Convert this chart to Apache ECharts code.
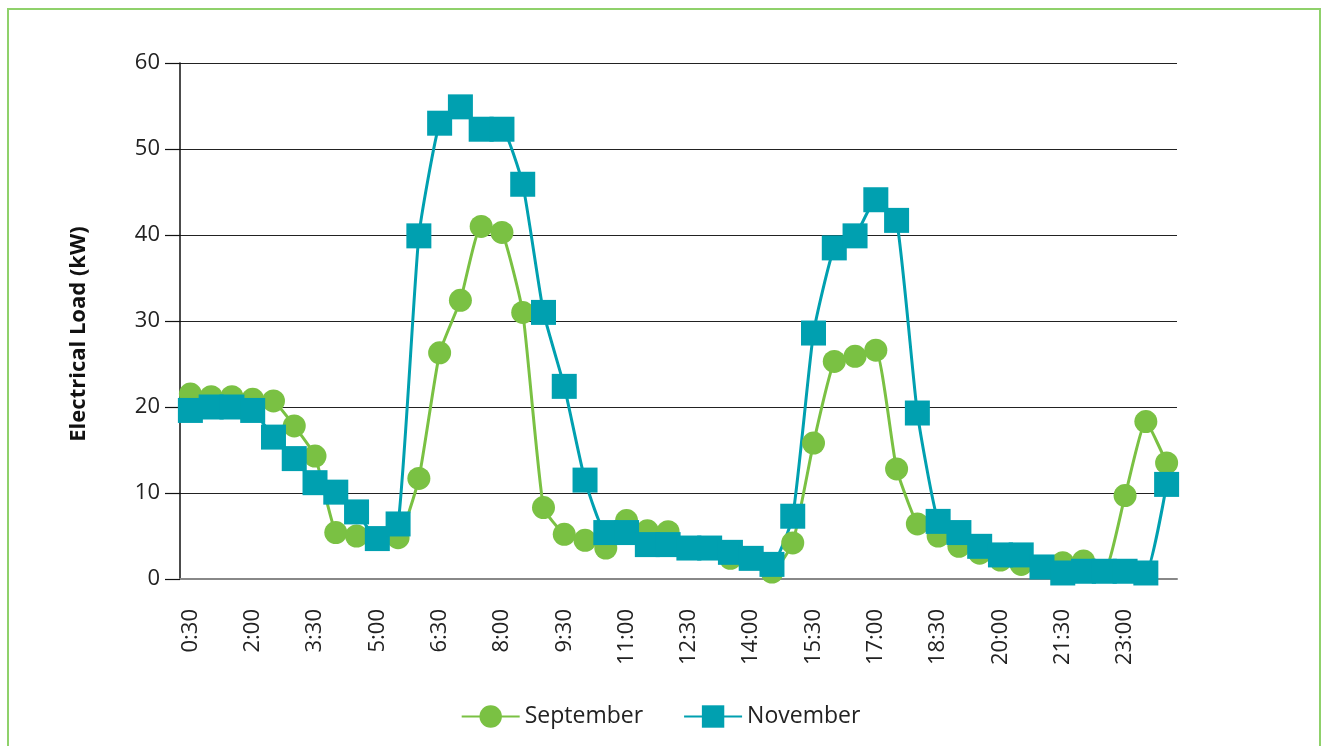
<!DOCTYPE html>
<html>
	<head>
		<meta charset="UTF-8">
		<title>Electrical Load</title>
		<script src="https://cdn.jsdelivr.net/npm/echarts@6/dist/echarts.min.js"></script>
		<style>
			html, body { margin: 0; padding: 0; background: #fff; }
			#main { width: 1321px; height: 746px; }
		</style>
	</head>
	<body>
		<div id="main"></div>
		<script>
			// half-hour time slots
			var times = ['0:30','1:00','1:30','2:00','2:30','3:00','3:30','4:00','4:30','5:00','5:30','6:00',
				'6:30','7:00','7:30','8:00','8:30','9:00','9:30','10:00','10:30','11:00','11:30','12:00',
				'12:30','13:00','13:30','14:00','14:30','15:00','15:30','16:00','16:30','17:00','17:30','18:00',
				'18:30','19:00','19:30','20:00','20:30','21:00','21:30','22:00','22:30','23:00','23:30','24:00'];

			// load in kW
			var september = [21.5, 21.2, 21.2, 20.9, 20.7, 17.8, 14.3, 5.4, 5.0, 4.7, 4.8, 11.7,
				26.3, 32.4, 41.0, 40.3, 31.0, 8.3, 5.2, 4.5, 3.6, 6.8, 5.6, 5.5,
				3.6, 3.6, 2.4, 2.4, 0.8, 4.2, 15.8, 25.3, 25.9, 26.6, 12.8, 6.4,
				5.0, 3.8, 3.0, 2.2, 1.7, 1.4, 1.9, 2.1, 0.9, 9.7, 18.3, 13.5];
			var november = [19.6, 20.0, 20.0, 19.6, 16.5, 14.0, 11.2, 10.1, 7.8, 4.7, 6.4, 39.9,
				53.0, 54.9, 52.3, 52.3, 45.9, 31.0, 22.4, 11.5, 5.4, 5.4, 4.0, 4.0,
				3.6, 3.6, 3.1, 2.4, 1.7, 7.3, 28.6, 38.5, 39.9, 44.1, 41.7, 19.3,
				6.7, 5.4, 3.8, 2.8, 2.8, 1.4, 0.7, 0.9, 0.9, 0.9, 0.7, 11.0];

			var green = '#7ac143';
			var teal = '#00a0b0';
			var font = 'Open Sans';

			var myChart = echarts.init(document.getElementById('main'));
			var option = {
				backgroundColor: '#fff',
				textStyle: { fontFamily: font },
				animation: false,
				// light green frame around the figure
				graphic: [{
					type: 'rect',
					shape: { x: 8, y: 9, width: 1312, height: 800 },
					style: { fill: 'none', stroke: '#8fd16b', lineWidth: 2 },
					silent: true
				}],
				grid: {
					left: 180,
					right: 144,
					top: 63,
					bottom: 167
				},
				legend: {
					left: 'center',
					top: 700,
					itemWidth: 58,
					itemHeight: 28,
					itemGap: 40,
					textStyle: { fontSize: 23, color: '#222', fontFamily: font },
					data: ['September', 'November']
				},
				xAxis: {
					type: 'category',
					data: times,
					boundaryGap: true,
					axisLine: { lineStyle: { color: '#888', width: 2 } },
					axisTick: { interval: 0, length: 11, lineStyle: { color: '#777', width: 1.5 } },
					axisLabel: {
						interval: 2,
						rotate: 90,
						margin: 30,
						fontSize: 22,
						color: '#222',
						fontFamily: font
					},
					splitLine: { show: false }
				},
				yAxis: {
					type: 'value',
					min: 0,
					max: 60,
					interval: 10,
					name: 'Electrical Load (kW)',
					nameLocation: 'middle',
					nameGap: 90,
					nameTextStyle: { fontSize: 22, fontWeight: 'bold', color: '#111', fontFamily: font, padding: [0, 26, 0, 0] },
					axisLine: { show: true, lineStyle: { color: '#111', width: 1.5 } },
					axisTick: { show: true, length: 15, lineStyle: { color: '#111', width: 1.2 } },
					axisLabel: { margin: 20, fontSize: 22, color: '#222', fontFamily: font },
					splitLine: { lineStyle: { color: '#222', width: 1.2 } }
				},
				series: [
					{
						name: 'September',
						type: 'line',
						data: september,
						smooth: 0.15,
						showAllSymbol: true,
						symbol: 'circle',
						symbolSize: 23,
						lineStyle: { color: green, width: 3 },
						itemStyle: { color: green }
					},
					{
						name: 'November',
						type: 'line',
						data: november,
						smooth: 0.15,
						showAllSymbol: true,
						symbol: 'rect',
						symbolSize: 25,
						lineStyle: { color: teal, width: 3 },
						itemStyle: { color: teal }
					}
				]
			};
			myChart.setOption(option);
		</script>
	</body>
</html>
